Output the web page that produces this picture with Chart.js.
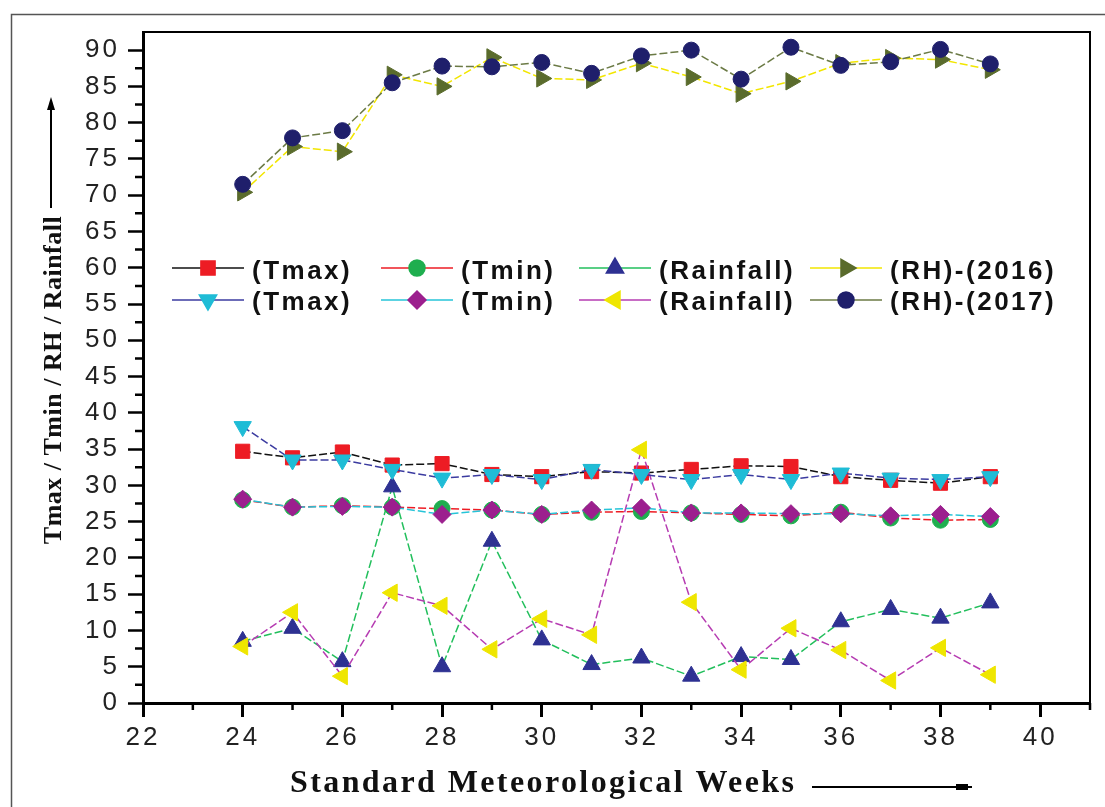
<!DOCTYPE html>
<html>
<head>
<meta charset="utf-8">
<script src="https://cdn.jsdelivr.net/npm/chart.js@4.4.0/dist/chart.umd.min.js"></script>
<style>
body { margin: 0; background: #fff; }
canvas { display: block; }
</style>
</head>
<body>
<canvas id="chart" width="1105" height="807"></canvas>
<script>
// standard meteorological weeks
const weeks = [24, 25, 26, 27, 28, 29, 30, 31, 32, 33, 34, 35, 36, 37, 38, 39]

// 2016
const tmax2016 = [34.7, 33.8, 34.6, 32.8, 33.0, 31.5, 31.2, 31.9, 31.7, 32.2, 32.7, 32.6, 31.2, 30.7, 30.3, 31.2]
const tmin2016 = [28.0, 27.0, 27.2, 27.0, 26.8, 26.6, 26.0, 26.3, 26.4, 26.2, 26.0, 25.8, 26.3, 25.5, 25.2, 25.3]
const rain2016 = [8.5, 10.3, 5.7, 29.8, 5.0, 22.3, 8.7, 5.3, 6.2, 3.7, 6.4, 6.0, 11.2, 12.9, 11.7, 13.8]
const rh2016 = [70.4, 76.7, 76.0, 86.6, 85.0, 89.0, 86.1, 85.9, 88.2, 86.3, 84.0, 85.7, 88.2, 88.9, 88.7, 87.3]

// 2017
const tmax2017 = [38.1, 33.5, 33.5, 32.2, 31.0, 31.5, 30.8, 32.2, 31.5, 30.8, 31.5, 30.8, 31.7, 31.0, 30.8, 31.2]
const tmin2017 = [28.1, 27.0, 27.1, 27.0, 26.0, 26.6, 26.0, 26.6, 26.9, 26.2, 26.2, 26.1, 26.1, 25.8, 26.0, 25.7]
const rain2017 = [7.8, 12.5, 3.7, 15.2, 13.4, 7.4, 11.6, 9.4, 34.9, 13.9, 4.6, 10.3, 7.3, 3.1, 7.6, 3.9]
const rh2017 = [71.5, 77.9, 78.9, 85.5, 87.8, 87.7, 88.3, 86.8, 89.2, 90.0, 86.0, 90.4, 87.9, 88.4, 90.1, 88.1]

const xTicks = [22, 24, 26, 28, 30, 32, 34, 36, 38, 40]
const yTicks = [0, 5, 10, 15, 20, 25, 30, 35, 40, 45, 50, 55, 60, 65, 70, 75, 80, 85, 90]

const pts = vals => vals.map((v, i) => ({ x: weeks[i], y: v }))

const series = (label, vals, line, marker, style, radius, rotation, order) => ({
    label: label,
    data: pts(vals),
    borderColor: line,
    borderWidth: 1.5,
    borderDash: [8, 3],
    pointStyle: style,
    pointRadius: radius,
    pointHoverRadius: radius,
    pointRotation: rotation,
    pointBackgroundColor: marker,
    pointBorderColor: marker,
    pointBorderWidth: 1,
    tension: 0,
    fill: false,
    order: order
})

const datasets = [
    series('(Tmax)', tmax2016, '#111111', '#ed1c24', 'rect', 10, 0, 2),
    series('(Tmin)', tmin2016, '#ed1c24', '#1fae4f', 'circle', 8, 0, 2),
    series('(Rainfall)', rain2016, '#22bf5c', '#2e3192', 'triangle', 10, 0, 2),
    series('(RH)-(2016)', rh2016, '#f2e600', '#5a6b2c', 'triangle', 10, 90, 2),
    series('(Tmax)', tmax2017, '#3b3ba0', '#1fbcd6', 'triangle', 10, 180, 1),
    series('(Tmin)', tmin2017, '#26c4d8', '#9c1f8e', 'rectRot', 9, 0, 1),
    series('(Rainfall)', rain2017, '#b63cb2', '#efe600', 'triangle', 10, 270, 1),
    series('(RH)-(2017)', rh2017, '#6b7a45', '#1f1f6b', 'circle', 8, 0, 1)
]

// legend drawn inside the plot, line - marker - line like the original
const legendCols = [172, 381, 579, 810]
const legendRows = [268, 300]
const legendBase = [279, 310]

const decorations = {
    id: 'decorations',
    beforeDraw(chart) {
        chart.ctx.letterSpacing = '3px'
    },
    afterDraw(chart) {
        const ctx = chart.ctx
        const area = chart.chartArea
        const xs = chart.scales.x
        const ys = chart.scales.y
        ctx.save()
        ctx.letterSpacing = '0px'

        // outer frame
        ctx.strokeStyle = '#555'
        ctx.lineWidth = 1.5
        ctx.beginPath()
        ctx.moveTo(11.5, 820)
        ctx.lineTo(11.5, 14.5)
        ctx.lineTo(1110, 14.5)
        ctx.stroke()

        // top and right border of plot
        ctx.strokeStyle = '#000'
        ctx.lineWidth = 2
        ctx.beginPath()
        ctx.moveTo(area.left, area.top)
        ctx.lineTo(area.right, area.top)
        ctx.lineTo(area.right, area.bottom)
        ctx.stroke()

        // minor ticks
        ctx.lineWidth = 2.5
        ctx.beginPath()
        for (let v = 23; v <= 41; v += 2) {
            const px = xs.getPixelForValue(v)
            ctx.moveTo(px, area.bottom)
            ctx.lineTo(px, area.bottom + 7)
        }
        for (let v = 2.5; v < 92; v += 5) {
            const py = ys.getPixelForValue(v)
            ctx.moveTo(area.left, py)
            ctx.lineTo(area.left - 8, py)
        }
        ctx.stroke()

        // legend
        ctx.font = 'bold 26px "Liberation Sans", Arial, sans-serif'
        ctx.letterSpacing = '2.5px'
        ctx.textBaseline = 'alphabetic'
        ctx.textAlign = 'left'
        datasets.forEach((ds, i) => {
            const row = i < 4 ? 0 : 1
            const x0 = legendCols[i % 4]
            const y0 = legendRows[row]
            ctx.strokeStyle = ds.borderColor
            ctx.lineWidth = 1.5
            ctx.setLineDash([])
            ctx.beginPath()
            ctx.moveTo(x0, y0)
            ctx.lineTo(x0 + 72, y0)
            ctx.stroke()
            ctx.fillStyle = ds.pointBackgroundColor
            ctx.strokeStyle = ds.pointBorderColor
            Chart.helpers.drawPoint(ctx, {
                pointStyle: ds.pointStyle,
                radius: ds.pointRadius,
                rotation: ds.pointRotation,
                borderWidth: 1
            }, x0 + 36, y0)
            ctx.fillStyle = '#111'
            ctx.fillText(ds.label, x0 + 80, legendBase[row])
        })

        // axis titles
        ctx.fillStyle = '#111'
        ctx.font = 'bold 32px "Liberation Serif", "Times New Roman", serif'
        ctx.letterSpacing = '2.4px'
        ctx.fillText('Standard Meteorological Weeks', 290, 792)

        ctx.save()
        ctx.translate(61, 380)
        ctx.rotate(-Math.PI / 2)
        ctx.font = 'bold 26px "Liberation Serif", "Times New Roman", serif'
        ctx.letterSpacing = '0.5px'
        ctx.textAlign = 'center'
        ctx.fillText('Tmax / Tmin / RH / Rainfall', 0, 0)
        ctx.restore()

        // arrows
        ctx.strokeStyle = '#000'
        ctx.fillStyle = '#000'
        ctx.lineWidth = 2
        ctx.beginPath()
        ctx.moveTo(51, 208)
        ctx.lineTo(51, 104)
        ctx.moveTo(812, 787)
        ctx.lineTo(972, 787)
        ctx.stroke()
        ctx.beginPath()
        ctx.moveTo(51, 97)
        ctx.lineTo(47, 110)
        ctx.lineTo(55, 110)
        ctx.closePath()
        ctx.fill()
        ctx.fillRect(956, 784, 12, 6)
        ctx.restore()
    }
}

new Chart(document.getElementById('chart'), {
    type: 'line',
    data: { datasets: datasets },
    plugins: [decorations],
    options: {
        responsive: false,
        animation: false,
        devicePixelRatio: 1,
        layout: { padding: { left: 0, top: 32, right: 15, bottom: 0 } },
        plugins: { legend: { display: false }, tooltip: { enabled: false } },
        scales: {
            x: {
                type: 'linear',
                min: 22,
                max: 41,
                afterFit: s => { s.height = 104 },
                afterBuildTicks: s => { s.ticks = xTicks.map(v => ({ value: v })) },
                ticks: {
                    font: { family: '"Liberation Sans", Arial, sans-serif', size: 26 },
                    color: '#222',
                    padding: 5,
                    maxRotation: 0,
                    autoSkip: false
                },
                grid: { drawOnChartArea: false, tickLength: 14, tickWidth: 3, tickColor: '#000' },
                border: { width: 3, color: '#000' }
            },
            y: {
                min: 0,
                max: 92.5,
                afterFit: s => { s.width = 143 },
                afterBuildTicks: s => { s.ticks = yTicks.map(v => ({ value: v })) },
                ticks: {
                    font: { family: '"Liberation Sans", Arial, sans-serif', size: 26 },
                    color: '#222',
                    padding: 8,
                    autoSkip: false
                },
                grid: { drawOnChartArea: false, tickLength: 15, tickWidth: 2.5, tickColor: '#000' },
                border: { width: 3, color: '#000' }
            }
        }
    }
})
</script>
</body>
</html>
